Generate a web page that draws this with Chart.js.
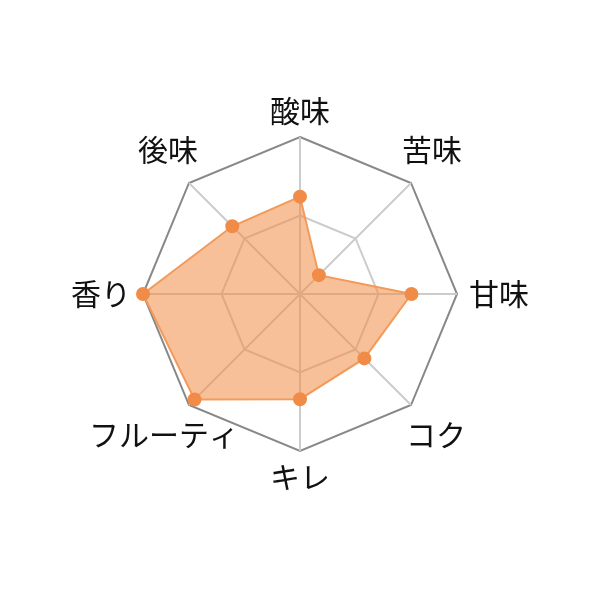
<!DOCTYPE html>
<html>
<head>
<meta charset="utf-8">
<script src="https://cdn.jsdelivr.net/npm/chart.js@4.4.0/dist/chart.umd.min.js"></script>
<style>
  html, body { margin: 0; padding: 0; background: #fff; }
  #wrap { width: 600px; height: 600px; }
</style>
</head>
<body>
<div id="wrap"><canvas id="radar"></canvas></div>
<script>
// 味の項目（上から時計回り）
const labels = ['酸味', '苦味', '甘味', 'コク', 'キレ', 'フルーティ', '香り', '後味'];
// 評価値（0〜100）
const values = [62, 17, 71, 58, 67, 95, 100, 61];
const scaleMin = 0;
const scaleMax = 100;
const scaleStep = 50;

const labelFont = '30px "Noto Sans CJK JP", sans-serif';

// ラベルは軸の外側に中央揃えで描く（Chart.js標準だと縮みすぎるため）
const outerLabels = {
    id: 'outerLabels',
    afterDraw(chart) {
        const scale = chart.scales.r;
        const c = chart.ctx;
        c.save();
        c.font = labelFont;
        c.fillStyle = '#111';
        c.textAlign = 'center';
        c.textBaseline = 'middle';
        const r = scale.drawingArea;
        chart.data.labels.forEach(function(text, i) {
            const w = c.measureText(text).width;
            const v = scale.getPointPosition(i, r);
            const sx = Math.sign(Math.round(v.x - scale.xCenter));
            const sy = Math.sign(Math.round(v.y - scale.yCenter));
            let x = v.x, y = v.y;
            if (sx === 0) {
                y += sy * 26;                 // 上下
            } else if (sy === 0) {
                x += sx * (12 + w / 2);       // 左右
            } else if (sy < 0) {
                x += sx * 21; y -= 33;        // 斜め上
            } else {
                x += sx * 25; y += 30;        // 斜め下
            }
            c.fillText(text, x, y);
        });
        c.restore();
    }
};

const ctx = document.getElementById('radar').getContext('2d');

const chart = new Chart(ctx, {
    type: 'radar',
    data: {
        labels: labels,
        datasets: [{
            data: values,
            clip: false,
            backgroundColor: 'rgba(242, 140, 70, 0.55)',
            borderColor: '#f29a5a',
            borderWidth: 2,
            pointBackgroundColor: '#f08c48',
            pointBorderColor: '#f08c48',
            pointRadius: 6,
        }]
    },
    options: {
        responsive: true,
        maintainAspectRatio: false,
        animation: false,
        layout: {
            padding: { top: 137, bottom: 149, left: 143, right: 143 }
        },
        scales: {
            r: {
                min: scaleMin,
                max: scaleMax,
                ticks: { stepSize: scaleStep, display: false },
                grid: {
                    // 内側の線は薄く、外枠は濃く
                    color: ['#cccccc', '#cccccc', '#888888'],
                    lineWidth: 2
                },
                angleLines: { color: '#cccccc', lineWidth: 2 },
                pointLabels: { display: false }
            }
        },
        plugins: {
            legend: { display: false },
            tooltip: { enabled: false }
        }
    },
    plugins: [outerLabels]
});
</script>
</body>
</html>
